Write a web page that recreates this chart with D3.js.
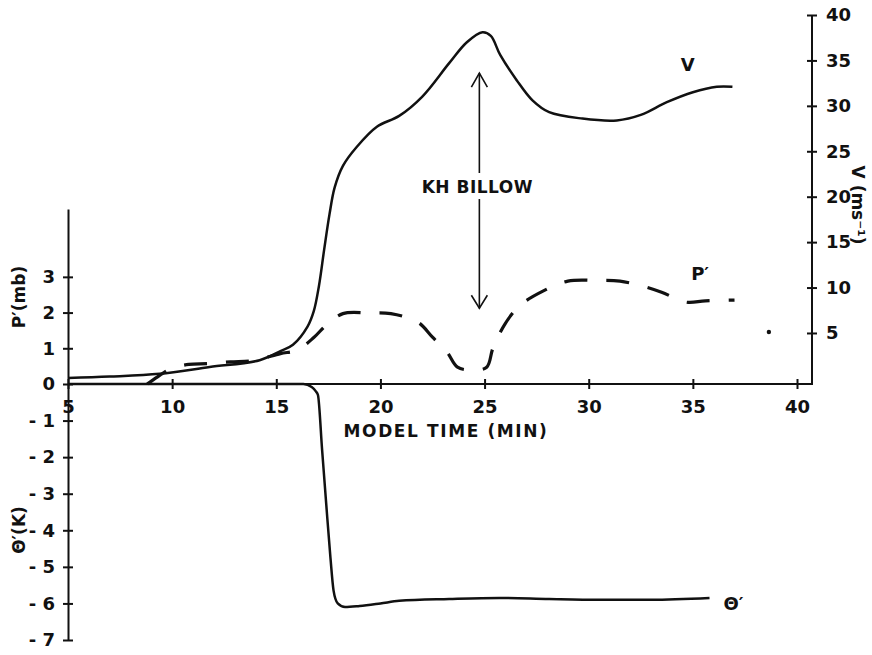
<!DOCTYPE html>
<html>
<head>
<meta charset="utf-8">
<script src="https://cdn.jsdelivr.net/npm/d3@7/dist/d3.min.js"></script>
<style>
body { margin: 0; background: #fff; }
</style>
</head>
<body>
<div id="chart"></div>
<script>
// model time (min) and values
var tV   = [5, 7, 9.4, 11.8, 14.2, 15.2, 15.8, 16.5, 16.8, 17.05, 17.3, 17.55, 17.8, 18.2, 18.87, 19.83, 20.9, 22.0, 23.3, 24.15, 24.9, 25.3, 25.75, 26.55, 27.3, 28.1, 29.7, 31.35, 32.5, 33.75, 35.0, 36.15, 36.9];
var vVal = [0.05, 0.2, 0.5, 1.25, 2.0, 3.0, 3.7, 5.7, 7.4, 10.2, 14.2, 18.0, 21.0, 23.4, 25.5, 27.7, 28.9, 31.0, 34.7, 37.0, 38.1, 37.7, 35.6, 32.8, 30.6, 29.3, 28.6, 28.4, 29.0, 30.4, 31.5, 32.1, 32.1];

var tP   = [8.8, 9.3, 9.9, 10.8, 11.7, 12.8, 13.9, 15.2, 16.0, 16.8, 17.4, 18.2, 19.4, 20.5, 21.8, 22.5, 23.2, 23.7, 24.4, 25.1, 25.4, 26.0, 26.7, 27.8, 29.0, 30.4, 31.5, 32.6, 33.5, 34.7, 35.6, 37.0];
var pVal = [0, 0.2, 0.42, 0.55, 0.57, 0.62, 0.66, 0.85, 0.95, 1.3, 1.65, 1.97, 1.99, 1.97, 1.73, 1.31, 0.89, 0.47, 0.39, 0.47, 1.0, 1.7, 2.2, 2.6, 2.88, 2.9, 2.88, 2.74, 2.57, 2.29, 2.33, 2.35];

var tTh   = [5, 10, 16.3, 16.7, 16.9, 17.0, 17.2, 17.4, 17.6, 17.75, 17.95, 18.3, 19.0, 20.0, 20.9, 23.3, 25.7, 28.1, 30.5, 33.0, 35.8];
var thVal = [0, 0, 0, -0.08, -0.2, -0.3, -1.8, -3.3, -4.75, -5.65, -6.0, -6.1, -6.07, -6.0, -5.93, -5.88, -5.85, -5.88, -5.9, -5.9, -5.85];

var stray = [{t: 38.65, v: 5.1}];

var xTicks = [5, 10, 15, 20, 25, 30, 35, 40];
var leftTicks = [3, 2, 1, 0, -1, -2, -3, -4, -5, -6, -7];
var rightTicks = [5, 10, 15, 20, 25, 30, 35, 40];

var ink = "#111";
var font = "DejaVu Sans, Verdana, sans-serif";

var svg = d3.select("#chart").append("svg")
    .attr("width", 872)
    .attr("height", 655)
    .style("background", "#fff");

var x = d3.scaleLinear().domain([5, 40]).range([68, 797]);
// P' and theta' share the left axis
var yL = d3.scaleLinear().domain([-7, 0, 4.9]).range([640, 384, 209]);
var yR = d3.scaleLinear().domain([0, 40]).range([378.4, 15]);
var rightX = 812;

function styleAxis(g) {
    g.attr("font-size", 18)
     .attr("font-family", font)
     .attr("font-weight", "bold")
     .attr("color", ink);
    g.selectAll("line, path").attr("stroke-width", 2);
}

// left axis
var gL = svg.append("g")
    .attr("transform", "translate(68,0)")
    .call(d3.axisLeft(yL).tickValues(leftTicks).tickSize(5).tickSizeOuter(0).tickPadding(8)
        .tickFormat(function(d) { return d < 0 ? "- " + (-d) : d; }))
    .call(styleAxis);
gL.selectAll(".tick line").attr("x1", 5);

// bottom axis
var gB = svg.append("g")
    .attr("transform", "translate(0," + yL(0) + ")")
    .call(d3.axisBottom(x).tickValues(xTicks).tickSize(5).tickSizeOuter(0).tickPadding(8))
    .call(styleAxis);
gB.select(".domain").remove();
gB.selectAll(".tick line").attr("y1", -5);
gB.selectAll(".tick text").attr("dy", "0.9em");
gB.append("line")
    .attr("x1", x(5)).attr("x2", rightX)
    .attr("stroke", ink).attr("stroke-width", 2);

// right axis
var gR = svg.append("g")
    .attr("transform", "translate(" + rightX + ",0)")
    .call(d3.axisRight(yR).tickValues(rightTicks).tickSize(5).tickSizeOuter(0).tickPadding(9))
    .call(styleAxis);
gR.select(".domain").remove();
gR.selectAll(".tick line").attr("x1", -5);
gR.append("line")
    .attr("y1", yR(40)).attr("y2", yL(0) + 1)
    .attr("stroke", ink).attr("stroke-width", 2);

// curves
var smooth = d3.curveCatmullRom.alpha(0.5);

var lineV = d3.line()
    .x(function(d, i) { return x(tV[i]); })
    .y(function(d) { return yR(d); })
    .curve(smooth);

var lineP = d3.line()
    .x(function(d, i) { return x(tP[i]); })
    .y(function(d) { return yL(d); })
    .curve(smooth);

var lineTh = d3.line()
    .x(function(d, i) { return x(tTh[i]); })
    .y(function(d) { return yL(d); })
    .curve(d3.curveMonotoneX);

svg.append("path")
    .attr("d", lineTh(thVal))
    .attr("fill", "none")
    .attr("stroke", ink)
    .attr("stroke-width", 2.5);

svg.append("path")
    .attr("d", lineP(pVal))
    .attr("fill", "none")
    .attr("stroke", ink)
    .attr("stroke-width", 3.2)
    .attr("stroke-dasharray", "23,19");

svg.append("path")
    .attr("d", lineV(vVal))
    .attr("fill", "none")
    .attr("stroke", ink)
    .attr("stroke-width", 2.5);

svg.selectAll(".stray")
    .data(stray)
    .enter().append("circle")
    .attr("class", "stray")
    .attr("cx", function(d) { return x(d.t); })
    .attr("cy", function(d) { return yR(d.v); })
    .attr("r", 2.2)
    .attr("fill", ink);

// KH billow arrow
var ax = x(24.75), aTop = yR(33.6), aBot = yL(2.12);
var arrow = svg.append("g").attr("stroke", ink).attr("stroke-width", 1.6).attr("fill", "none");
arrow.append("line").attr("x1", ax).attr("x2", ax).attr("y1", aTop).attr("y2", 173);
arrow.append("line").attr("x1", ax).attr("x2", ax).attr("y1", 199).attr("y2", aBot);
arrow.append("path").attr("d", "M" + (ax - 8) + "," + (aTop + 14) + "L" + ax + "," + aTop + "L" + (ax + 8) + "," + (aTop + 14));
arrow.append("path").attr("d", "M" + (ax - 8) + "," + (aBot - 13) + "L" + ax + "," + aBot + "L" + (ax + 8) + "," + (aBot - 13));

function label(txt, px, py, size, rot, anchor, spacing) {
    var t = svg.append("text")
        .attr("transform", "translate(" + px + "," + py + ")" + (rot ? " rotate(" + rot + ")" : ""))
        .attr("text-anchor", anchor || "middle")
        .attr("dominant-baseline", "central")
        .attr("font-family", font)
        .attr("font-weight", "bold")
        .attr("font-size", size)
        .attr("letter-spacing", spacing || 0)
        .attr("fill", ink)
        .text(txt);
    return t;
}

label("KH BILLOW", ax - 2, 187, 17, 0, "middle", 0.5);
label("MODEL TIME (MIN)", 446, 431, 17, 0, "middle", 1.6);
label("V", x(34.75), yR(34.5), 18);
label("P\u2032", x(35.35), yL(3.1), 18);
label("\u0398\u2032", x(36.95), yL(-6.0), 18);
label("P\u2032(mb)", 19, 297, 17, -90);
label("\u0398\u2032(K)", 19, 530, 17, -90);
label("V (ms\u207B\u00B9)", 858, 205, 17, 90);
</script>
</body>
</html>
